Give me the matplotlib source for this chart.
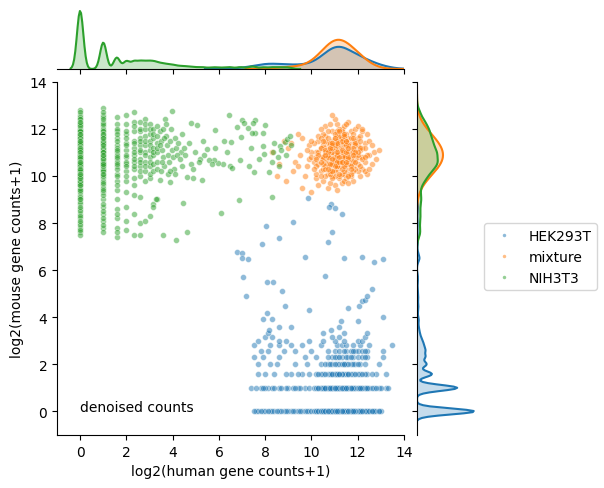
import numpy as np
import pandas as pd
import seaborn as sns
from matplotlib import pyplot as plt
from matplotlib.lines import Line2D

# HEK293T cells: mouse counts are small integers (k), one list of log2(human+1) values per k
hek_k = [0, 1, 2, 3, 4, 5, 6, 7, 8, 9]
hek_row0 = [7.6, 8.2, 9.1, 7.9, 8.8, 9.6, 8.4, 9.3, 7.7, 9.9, 8.0, 8.6, 9.4, 7.5, 9.0, 8.3, 9.7, 8.9, 7.8, 9.5,
            8.1, 9.2, 8.7, 9.8, 8.5,
            10.0, 10.2, 10.4, 10.5, 10.6, 10.7, 10.8, 10.8, 10.9, 11.0, 11.0, 11.1, 11.1, 11.2, 11.2, 11.3, 11.4,
            11.5, 11.6, 11.8, 12.0, 12.3, 12.7, 10.3, 10.6, 10.9, 11.1, 11.3, 11.5, 11.7, 10.1, 10.5, 10.7, 10.9,
            11.0, 11.2, 11.4, 11.6, 11.9, 12.2, 12.5, 12.9, 10.4, 10.8, 11.0, 11.1, 11.3, 11.6, 12.1, 10.6, 10.8,
            11.0, 11.2, 11.4, 11.8, 12.4, 13.0, 10.2, 10.7, 10.9, 11.1, 11.2, 11.5, 11.7, 12.0, 12.6, 10.5, 10.9,
            11.0, 11.3, 11.4, 11.9, 10.8, 11.1, 11.2, 11.6, 12.2, 12.8, 10.3, 10.7, 11.0, 11.3, 11.5, 12.1, 10.9,
            11.1, 11.4, 11.7, 12.4, 10.6, 10.8, 11.2, 11.5, 12.0, 10.4, 11.0, 11.3, 11.8, 12.7, 10.7, 11.1, 11.6,
            12.3, 10.9, 11.2, 11.4, 12.5, 10.5, 11.0, 11.7, 10.8, 11.3, 12.1, 11.1, 11.5, 12.9, 10.6, 11.2, 11.9,
            10.9, 11.4, 12.2, 11.0, 11.6, 10.7, 11.3, 12.6, 11.1, 11.8]
hek_row1 = [7.4, 8.1, 9.0, 7.8, 8.6, 9.4, 8.3, 9.7, 7.6, 9.2, 8.9, 8.0, 9.5, 8.4, 9.9, 7.9, 8.7, 9.3,
            10.1, 10.4, 10.6, 10.8, 10.9, 11.0, 11.1, 11.2, 11.3, 11.5, 11.7, 12.0, 12.4, 12.9, 13.2, 10.3, 10.7,
            10.9, 11.1, 11.2, 11.4, 11.6, 11.9, 12.3, 10.5, 10.8, 11.0, 11.1, 11.3, 11.5, 11.8, 12.2, 12.7, 10.2,
            10.6, 10.9, 11.0, 11.2, 11.4, 11.7, 12.1, 10.7, 10.9, 11.1, 11.3, 11.6, 12.5, 13.0, 10.4, 10.8, 11.0,
            11.2, 11.5, 11.9, 10.6, 11.1, 11.3, 11.7, 12.6, 10.9, 11.0, 11.4, 12.0, 10.5, 10.8, 11.2, 11.6, 12.3,
            10.7, 11.1, 11.5, 12.8, 10.3, 11.0, 11.3, 11.8, 10.9, 11.2, 12.2, 10.6, 11.4, 12.4, 11.1, 11.7, 10.8,
            11.3, 12.1, 11.0, 11.5, 13.3]
hek_row2 = [7.7, 8.4, 9.1, 9.6, 8.0, 8.9, 9.4, 9.9, 10.2, 10.5, 10.7, 10.9, 11.0, 11.1, 11.3, 11.4, 11.6, 11.8,
            12.1, 12.4, 12.8, 13.2, 10.4, 10.8, 11.0, 11.2, 11.5, 11.7, 12.0, 12.6, 10.6, 10.9, 11.1, 11.3, 11.9,
            12.3, 10.3, 11.2, 11.6, 12.2]
hek_row3 = [7.7, 8.5, 9.3, 9.8, 10.4, 10.7, 10.9, 11.1, 11.2, 11.4, 11.5, 11.7, 11.9, 12.1, 12.3, 12.9, 8.2,
            10.6, 11.3, 11.8, 10.8, 11.0, 11.6, 12.0, 11.4]
hek_row4 = [7.5, 8.6, 9.7, 10.2, 10.9, 11.1, 11.3, 11.6, 11.8, 12.0, 12.2, 12.4, 13.1, 11.0, 11.5, 7.9, 11.2,
            11.7, 10.7, 12.3]
hek_row5 = [7.8, 8.8, 9.3, 10.0, 10.7, 11.0, 11.2, 11.5, 11.7, 11.9, 12.0, 12.2, 12.4, 13.1, 8.1, 11.4, 11.8,
            12.3]
hek_row6 = [7.5, 8.6, 9.1, 9.6, 10.4, 11.1, 11.3, 11.5, 11.8, 12.1, 12.5, 8.2, 13.5]
hek_row7 = [7.7, 8.6, 8.9, 9.9, 10.5, 11.4, 12.0, 12.2, 11.0]
hek_row8 = [8.0, 8.3, 10.9, 11.2, 12.3]
hek_row9 = [8.1, 10.5, 11.4, 12.4]
# remaining HEK293T cells, already on the log2 scale
hek_extra_x = [6.76, 6.98, 7.0, 7.27, 7.02, 7.16, 9.72, 11.41, 12.17, 12.7, 13.1, 10.58, 8.07, 8.32, 8.72,
               8.84, 8.09, 7.89, 8.3, 8.15, 8.59, 9.1, 11.58, 12.07, 12.2, 12.3, 12.4, 13.07, 11.28, 12.0,
               10.86, 11.2, 8.03, 9.21, 8.59, 7.86, 9.86, 10.83, 11.02, 10.77, 11.31, 10.9, 10.7, 9.9, 12.6]
hek_extra_y = [6.78, 6.71, 6.5, 6.47, 5.72, 4.88, 6.54, 6.5, 6.57, 6.35, 6.47, 5.76, 5.5, 5.48, 5.1,
               4.48, 4.2, 3.91, 3.91, 3.46, 3.6, 3.6, 4.41, 4.48, 4.7, 4.75, 4.9, 4.01, 3.83, 3.83,
               3.46, 3.58, 7.89, 8.06, 7.38, 7.09, 9.05, 8.81, 8.63, 8.67, 8.38, 7.6, 7.2, 4.3, 5.2]

# mixture cells (log2 human, log2 mouse)
mix_x = [11.2, 10.8, 11.5, 10.4, 11.9, 11.0, 10.6, 11.3, 12.2, 10.9, 11.7, 10.2, 11.1, 11.6, 10.7, 12.5, 9.8,
         11.4, 10.3, 11.8, 11.0, 10.5, 12.0, 11.2, 9.5, 11.4, 10.9, 12.3, 10.1, 11.6, 11.1, 10.6, 12.1, 11.3,
         9.9, 11.9, 10.8, 11.5, 10.4, 12.6, 11.0, 10.7, 11.7, 9.2, 11.2, 10.9, 12.4, 10.2, 11.4, 11.8, 10.6,
         11.1, 12.0, 10.0, 11.3, 11.6, 10.8, 12.2, 9.6, 11.0, 11.5, 10.3, 11.9, 10.7, 11.2, 12.7, 10.5, 11.4,
         11.7, 9.4, 11.1, 10.9, 12.1, 10.4, 11.6, 11.0, 8.6, 11.3, 10.6, 12.3, 11.8, 10.1, 11.5, 10.8, 11.2,
         9.7, 12.0, 11.0, 10.7, 11.6, 11.4, 10.3, 12.5, 11.1, 10.9, 9.0, 11.8, 10.5, 11.3, 12.2, 10.0, 11.7,
         11.1, 10.6, 12.4, 11.2, 9.9, 11.5, 10.8, 11.9, 10.4, 11.0, 12.8, 11.3, 10.2, 11.6, 8.9, 11.4, 10.7,
         12.1, 11.0, 10.9, 11.7, 9.3, 11.2, 10.5, 12.0, 11.8, 10.3, 11.1, 8.3, 11.5, 10.8, 12.3, 11.4, 10.6,
         11.9, 10.0, 11.3, 11.0, 12.6, 10.7, 11.6, 9.6, 11.2, 10.4, 12.2, 11.1, 10.9, 11.7, 8.8, 11.4, 10.2,
         12.0, 11.5, 10.8, 11.0, 12.4, 9.8, 11.3, 10.6, 11.8, 11.1, 10.1, 11.9, 12.9, 10.5, 11.2, 11.6, 10.9,
         9.1, 11.4, 12.1, 10.7, 11.0, 10.3, 11.7, 12.3, 11.3, 10.8, 8.5, 11.5, 11.1, 10.4, 12.0, 11.8, 10.6,
         11.2, 9.4, 11.9, 10.9, 12.5, 11.4, 10.0, 11.6, 11.0, 10.7, 12.2, 11.3, 10.2,
         10.9, 11.3, 11.6, 10.5, 11.1, 11.8, 10.7, 11.4, 12.0, 10.8, 11.2, 11.5, 10.6, 11.9, 11.0, 10.4, 11.3,
         11.7, 10.9, 12.1, 11.1, 10.6, 11.4, 11.8, 10.8, 11.5, 10.3, 11.2, 11.6, 11.0, 10.7, 12.2, 11.3, 10.9,
         11.7, 11.1, 10.5, 11.4, 11.9, 10.8, 11.2, 11.6, 10.6, 11.0, 12.0, 11.3, 10.9, 11.5, 10.4, 11.8, 11.1,
         10.7, 11.4, 11.2, 10.9, 11.6, 12.3, 10.8, 11.0, 11.3, 10.5, 11.7, 11.1, 10.9, 11.5, 12.1, 10.6, 11.2,
         11.4, 10.8, 11.9, 11.0, 10.7, 11.3, 11.6, 10.2, 11.1, 11.8, 10.9, 11.5]
mix_y = [10.9, 11.3, 10.6, 10.2, 11.1, 10.5, 11.7, 11.5, 10.3, 10.0, 11.9, 11.0, 12.2, 10.1, 10.7, 10.9, 10.4,
         11.2, 11.5, 10.4, 11.1, 9.8, 11.6, 9.9, 10.9, 10.7, 11.9, 11.4, 10.6, 11.3, 10.3, 10.9, 10.0, 12.0,
         11.3, 10.7, 10.4, 11.8, 11.2, 10.5, 9.6, 11.4, 10.9, 10.2, 11.6, 10.8, 11.8, 9.9, 10.1, 11.4, 12.1,
         10.6, 10.8, 11.0, 9.7, 12.3, 11.0, 11.2, 11.6, 11.4, 10.3, 10.5, 12.0, 9.5, 10.7, 11.0, 11.8, 11.0,
         10.5, 11.8, 11.8, 10.2, 11.7, 10.8, 10.9, 12.4, 10.5, 10.4, 11.2, 10.6, 9.8, 11.4, 11.1, 12.2, 10.0,
         10.0, 10.2, 10.9, 10.1, 11.6, 12.1, 9.6, 11.5, 11.0, 11.5, 11.2, 10.6, 10.3, 11.3, 10.8, 9.3, 11.2,
         9.4, 10.6, 10.1, 11.4, 10.7, 9.9, 10.8, 11.5, 12.0, 10.6, 10.7, 10.8, 10.4, 10.5, 9.8, 11.7, 11.1,
         11.1, 10.2, 12.6, 10.0, 10.6, 11.2, 11.3, 12.1, 11.0, 11.7, 10.8, 11.0, 10.8, 9.7, 10.2, 10.5, 10.0,
         10.9, 10.8, 11.9, 11.6, 11.3, 10.5, 11.4, 9.5, 10.4, 11.6, 11.9, 11.3, 10.6, 11.6, 11.5, 9.8, 10.1,
         10.5, 12.2, 11.2, 10.0, 10.9, 11.1, 10.1, 11.5, 11.8, 10.4, 10.3, 10.3, 11.1, 10.7, 12.0, 11.0, 9.9,
         11.4, 11.4, 10.4, 11.9, 11.2, 11.0, 10.7, 11.2, 10.6, 10.1, 10.0, 11.5, 11.9, 10.0, 11.3, 10.2, 10.4,
         10.6, 10.4, 11.3, 11.0, 10.3, 10.9, 11.5, 9.7, 10.8, 10.9, 12.0, 11.6, 10.8,
         11.0, 10.6, 11.3, 10.8, 10.4, 11.0, 11.6, 10.2, 10.9, 11.1, 11.7, 10.5, 10.3, 11.4, 10.7, 11.2, 11.0,
         10.1, 10.5, 11.2, 11.5, 11.0, 10.8, 11.6, 10.2, 11.3, 10.9, 10.6, 10.0, 11.8, 10.8, 10.7, 11.5, 11.2,
         10.4, 10.9, 10.5, 11.7, 10.6, 11.4, 10.1, 10.7, 11.1, 11.3, 11.0, 10.3, 10.7, 11.5, 10.6, 11.2, 10.6,
         11.0, 10.4, 11.9, 11.3, 10.8, 10.8, 11.2, 10.4, 11.1, 11.5, 10.3, 11.4, 10.2, 11.0, 11.5, 10.9, 10.8,
         11.8, 10.5, 11.0, 11.6, 10.3, 10.6, 11.2, 10.7, 11.0, 10.9, 11.4, 10.6]

# NIH3T3 cells: human counts are small integers (k), one list of log2(mouse+1) values per k
nih_k = [0, 1, 2, 3, 4, 5, 6, 7, 8, 9]
nih_col0 = [12.8, 12.6, 12.4, 12.3, 12.1, 12.0, 11.9, 11.8, 11.7, 11.6, 11.5, 11.4, 11.3, 11.2, 11.1, 11.0,
            10.9, 10.8, 10.7, 10.6, 10.5, 10.4, 10.3, 10.2, 10.1, 10.0, 9.9, 9.8, 9.6, 9.4, 9.2, 9.0, 8.8, 8.6,
            8.4, 8.2, 8.0, 7.8, 7.6, 7.5, 12.7, 12.2, 11.9, 11.6, 11.4, 11.2, 11.1, 10.9, 10.8, 10.7, 10.6, 10.5,
            10.3, 10.2, 10.0, 9.7, 9.3, 8.9, 8.5, 7.9, 12.5, 12.0, 11.8, 11.5, 11.3, 11.1, 11.0, 10.9, 10.8, 10.6,
            10.5, 10.4, 10.2, 10.1, 9.9, 9.5, 9.1, 8.3, 7.7, 12.2, 11.9, 11.7, 11.4, 11.2, 11.0, 10.9, 10.7, 10.6,
            10.5, 10.4, 10.3, 10.1, 9.8, 9.6, 8.7, 12.4, 11.8, 11.6, 11.3, 11.1, 11.0, 10.8, 10.7, 10.6, 10.4,
            10.3, 10.2, 10.0, 9.7, 9.0, 8.1, 12.1, 11.7, 11.5, 11.2, 11.0, 10.9, 10.8, 10.6, 10.5, 10.3, 10.1,
            9.9, 9.4, 12.3, 11.6, 11.3, 11.1, 10.9, 10.7, 10.5, 10.4, 10.2, 9.8, 11.9, 11.4, 11.1, 10.8, 10.6,
            10.4, 10.0, 9.6, 11.5, 11.2, 10.9, 10.7, 10.5, 10.3, 9.9, 11.8, 11.0, 10.8, 10.6, 10.1]
nih_col1 = [12.9, 12.6, 12.3, 12.1, 11.9, 11.7, 11.5, 11.3, 11.1, 10.9, 10.7, 10.5, 10.3, 10.1, 9.9, 9.6, 9.3,
            9.0, 8.7, 8.4, 8.1, 7.8, 7.6, 12.5, 12.0, 11.8, 11.6, 11.4, 11.2, 11.0, 10.8, 10.6, 10.4, 10.2, 9.8,
            9.2, 8.5, 7.9, 12.2, 11.7, 11.4, 11.1, 10.9, 10.7, 10.5, 10.3, 10.0, 9.5, 8.8, 12.4, 11.9, 11.5, 11.2,
            11.0, 10.8, 10.6, 10.2, 9.7, 8.2, 11.8, 11.3, 11.0, 10.7, 10.4, 10.1, 9.4, 12.7, 11.6, 10.9, 10.5]
nih_col2 = [12.5, 12.2, 11.9, 11.6, 11.3, 11.0, 10.7, 10.4, 10.1, 9.8, 9.4, 9.0, 8.6, 8.2, 7.8, 7.4, 12.0,
            11.5, 11.2, 10.9, 10.6, 10.3, 9.6, 8.4, 11.8, 11.1, 10.8, 10.5, 10.0, 7.6]
nih_col3 = [12.6, 12.2, 11.8, 11.4, 11.1, 10.8, 10.5, 10.2, 9.8, 9.3, 8.7, 7.7, 11.6, 10.9, 10.6, 8.1, 11.9,
            11.3, 10.4, 10.0]
nih_col4 = [12.7, 12.3, 11.9, 11.5, 11.2, 10.9, 10.6, 10.3, 9.9, 9.2, 8.4, 7.5, 11.0, 10.7, 12.1, 11.4, 10.4,
            9.6]
nih_col5 = [12.3, 11.9, 11.6, 11.3, 11.0, 10.7, 10.4, 10.0, 9.1, 7.5, 8.0, 12.0, 11.1, 10.6, 10.2, 11.5]
nih_col6 = [12.4, 12.0, 11.7, 11.3, 11.0, 10.6, 10.2, 9.8, 8.1, 11.5, 10.9, 10.4, 12.2]
nih_col7 = [12.2, 11.8, 11.5, 11.1, 10.8, 10.4, 9.9, 8.3, 12.0, 11.3, 10.6, 10.1]
nih_col8 = [12.0, 11.6, 11.2, 10.9, 10.5, 8.8, 11.8, 11.0, 10.2]
nih_col9 = [12.1, 11.4, 11.0, 10.6, 9.0, 11.7, 11.2, 10.3]
# remaining NIH3T3 cells, already on the log2 scale
nih_extra_x = [3.97, 4.78, 5.07, 6.43, 6.98, 7.09, 7.55, 7.27, 8.0, 7.91, 7.55, 6.95, 5.81, 6.52, 6.21, 5.85,
               5.48, 6.36, 7.38, 7.89, 7.96, 7.73, 6.9, 6.47, 6.18, 5.97, 5.77, 5.58, 5.68, 6.56, 7.31, 7.5,
               5.17, 5.14, 5.25, 4.86, 4.6, 4.42, 4.35, 4.78, 4.88, 6.85, 6.08, 4.45, 4.62, 4.16, 3.58, 8.28,
               8.35, 8.64, 8.85, 8.93, 9.05, 8.16, 8.56, 3.3, 3.15, 3.87, 3.44, 3.66, 6.76, 7.48, 7.41,
               3.45, 3.5, 3.55, 3.6, 3.62, 3.7, 3.75, 3.8, 3.85, 3.9, 3.95, 4.0, 4.05, 4.1, 4.15, 4.2, 3.48,
               3.58, 3.72, 3.92, 4.1, 4.25, 3.52, 3.78, 3.46, 3.64, 3.88, 4.3, 4.5, 4.4, 4.55, 4.7, 4.95, 5.3,
               5.35, 8.4, 8.7, 8.9, 8.3, 9.1, 8.6]
nih_extra_y = [12.74, 12.24, 12.14, 12.6, 12.38, 12.24, 12.38, 12.03, 12.14, 11.83, 11.82, 11.65, 11.93, 11.46,
               11.5, 11.18, 11.14, 11.03, 11.18, 11.26, 10.92, 10.72, 10.68, 10.44, 10.51, 10.55, 10.68, 10.68,
               10.51, 10.33, 10.4, 10.18, 10.72, 10.58, 9.82, 9.91, 9.97, 10.44, 11.0, 10.51, 10.3, 8.97, 8.41,
               8.86, 7.63, 7.29, 7.5, 9.09, 11.0, 11.29, 11.43, 11.57, 11.7, 10.16, 10.8, 9.02, 8.67, 9.73,
               9.83, 12.4, 12.07, 12.24, 11.82,
               11.9, 11.5, 11.1, 10.8, 10.4, 11.7, 11.3, 10.9, 10.6, 11.5, 11.1, 10.8, 10.3, 11.6, 11.2, 10.9,
               10.2, 12.0, 12.2, 12.0, 10.1, 11.4, 10.6, 10.1, 11.3, 11.6, 10.2, 10.7, 11.2, 11.8, 10.9, 11.4,
               11.0, 11.5, 10.9, 11.4, 11.1, 10.9, 10.6, 11.3, 10.4]

cell_types = ['HEK293T', 'mixture', 'NIH3T3']
colors = ['#1f77b4', '#ff7f0e', '#2ca02c']
# kde bandwidth factors per cell type, (x marginal, y marginal)
bw_x = [1.1, 1.5, 0.2]
bw_y = [0.235, 2.0, 0.5]


def build_df():
    rows = []
    hek_rows = [hek_row0, hek_row1, hek_row2, hek_row3, hek_row4, hek_row5, hek_row6, hek_row7, hek_row8, hek_row9]
    for k, xs in zip(hek_k, hek_rows):
        for x in xs:
            rows.append((x, np.log2(k + 1), 'HEK293T'))
    for x, y in zip(hek_extra_x, hek_extra_y):
        rows.append((x, y, 'HEK293T'))
    for x, y in zip(mix_x, mix_y):
        rows.append((x, y, 'mixture'))
    nih_cols = [nih_col0, nih_col1, nih_col2, nih_col3, nih_col4, nih_col5, nih_col6, nih_col7, nih_col8, nih_col9]
    for k, ys in zip(nih_k, nih_cols):
        for y in ys:
            rows.append((np.log2(k + 1), y, 'NIH3T3'))
    for x, y in zip(nih_extra_x, nih_extra_y):
        rows.append((x, y, 'NIH3T3'))
    return pd.DataFrame(rows, columns=['human', 'mouse', 'cell'])


df = build_df()

fig = plt.figure(figsize=(6.04, 4.89), dpi=100)
ax = fig.add_axes([0.0944, 0.1084, 0.5745, 0.7225])
ax_top = fig.add_axes([0.0944, 0.8569, 0.5745, 0.1431], sharex=ax)
ax_right = fig.add_axes([0.6904, 0.1084, 0.1159, 0.7225], sharey=ax)

# joint scatter
for name, c in zip(cell_types, colors):
    sub = df[df.cell == name]
    ax.scatter(sub.human, sub.mouse, s=18, color=c, alpha=0.5, edgecolor='white', linewidth=0.5)

# marginal densities: filled area, then the outline on top
for name, c, bx, by in zip(cell_types, colors, bw_x, bw_y):
    sub = df[df.cell == name]
    sns.kdeplot(x=sub.human, ax=ax_top, color=c, fill=True, alpha=0.25, linewidth=0, bw_adjust=bx)
    sns.kdeplot(x=sub.human, ax=ax_top, color=c, linewidth=1.5, bw_adjust=bx)
    sns.kdeplot(y=sub.mouse, ax=ax_right, color=c, fill=True, alpha=0.25, linewidth=0, bw_adjust=by)
    sns.kdeplot(y=sub.mouse, ax=ax_right, color=c, linewidth=1.5, bw_adjust=by)

ax.set_xlim(-1, 14)
ax.set_ylim(-1, 14)
ax.set_xticks(range(0, 15, 2))
ax.set_yticks(range(0, 15, 2))
ax.set_xlabel('log2(human gene counts+1)', fontsize=10)
ax.set_ylabel('log2(mouse gene counts+1)', fontsize=10)
ax.spines[['top', 'right']].set_visible(False)
ax.text(0, 0, 'denoised counts', fontsize=10)

peak_x = max(l.get_ydata().max() for l in ax_top.lines)
ax_top.set_ylim(0, peak_x * 70 / 58)
ax_top.set_xlabel('')
ax_top.set_ylabel('')
ax_top.tick_params(labelbottom=False, left=False, labelleft=False)
ax_top.spines[['top', 'right', 'left']].set_visible(False)

peak_y = max(l.get_xdata().max() for l in ax_right.lines)
ax_right.set_xlim(0, peak_y * 70 / 56.7)
ax_right.set_xlabel('')
ax_right.set_ylabel('')
ax_right.tick_params(labelleft=False, bottom=False, labelbottom=False)
ax_right.spines[['top', 'right', 'bottom']].set_visible(False)

handles = [Line2D([], [], marker='o', linestyle='', markersize=2.5, color=c, alpha=0.5, markeredgewidth=0)
           for c in colors]
fig.legend(handles, cell_types, loc='center left', bbox_to_anchor=(0.790, 0.473), fontsize=10)

fig.savefig('out.png', dpi=100)
